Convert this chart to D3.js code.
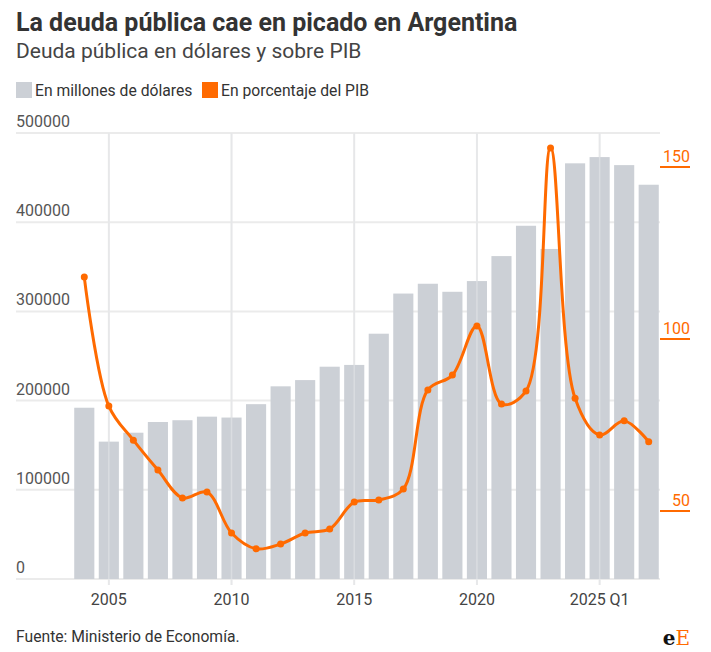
<!DOCTYPE html>
<html><head><meta charset="utf-8">
<script src="https://cdn.jsdelivr.net/npm/d3@7"></script>
<style>body{margin:0;background:#fff;font-family:Roboto,sans-serif}</style></head>
<body><svg id="c" width="711" height="652"></svg>
<script>
const categories=["2004","2005","2006","2007","2008","2009","2010","2011","2012","2013","2014","2015","2016","2017","2018","2019","2020","2021","2022","2023","2024","2025 Q1","2025 Q2","2025 Q3"];
const deudaUSD=[192000,154000,164000,176000,178000,182000,181000,196000,216000,223000,238000,240000,275000,320000,331000,322000,334000,362000,396000,370000,466000,473000,464000,442000];
const deudaPIB=[118,80.5,70.6,61.9,53.8,55.5,43.6,39,40.4,43.6,44.8,52.6,53.2,56.4,85.2,89.5,103.8,81.1,84.9,155.5,82.8,72.1,76.2,70.1];
const xTickLabels=["2005","2010","2015","2020","2025 Q1"];
const leftTicks=[0,100000,200000,300000,400000,500000];
const rightTicks=[50,100,150];
const svg=d3.select("#c");
const orange="#ff6a00";
svg.append("text").attr("x",16).attr("y",31).attr("font-size",25).attr("font-weight",700).attr("fill","#333").text("La deuda pública cae en picado en Argentina");
svg.append("text").attr("x",16).attr("y",58).attr("font-size",21).attr("fill","#444").text("Deuda pública en dólares y sobre PIB");
svg.append("rect").attr("x",16).attr("y",82).attr("width",16).attr("height",16).attr("fill","#ccd0d6");
svg.append("text").attr("x",35).attr("y",96).attr("font-size",15.7).attr("fill","#333").text("En millones de dólares");
svg.append("rect").attr("x",202).attr("y",82).attr("width",16).attr("height",16).attr("fill",orange);
svg.append("text").attr("x",221).attr("y",96).attr("font-size",15.7).attr("fill","#333").text("En porcentaje del PIB");
const x=d3.scaleBand().domain(categories).range([73,660]).paddingInner(0.18).paddingOuter(0.05);
const y=d3.scaleLinear().domain([0,500000]).range([579,133]);
const y2=d3.scaleLinear().domain([50,150]).range([511,167]);
const g=svg.append("g");
leftTicks.forEach(t=>{
 g.append("line").attr("x1",16).attr("x2",660).attr("y1",y(t)).attr("y2",y(t)).attr("stroke","#ebebeb").attr("stroke-width",2);
 g.append("text").attr("x",16).attr("y",y(t)-6).attr("font-size",16).attr("fill","#555").text(t);
});
xTickLabels.forEach(l=>{
 const xc=x(l)+x.bandwidth()/2;
 g.append("line").attr("x1",xc).attr("x2",xc).attr("y1",133).attr("y2",585).attr("stroke","#ebebeb").attr("stroke-width",2);
});
g.selectAll(".b").data(categories).enter().append("rect").attr("x",d=>x(d)).attr("width",x.bandwidth())
 .attr("y",(d,i)=>y(deudaUSD[i])).attr("height",(d,i)=>579-y(deudaUSD[i])).attr("fill","#ccd0d6");
xTickLabels.forEach(l=>{
 const xc=x(l)+x.bandwidth()/2;
 g.append("line").attr("x1",xc).attr("x2",xc).attr("y1",133).attr("y2",585).attr("stroke","#e4e6e9").attr("stroke-width",1.5).attr("opacity",0.6);
 g.append("text").attr("x",xc).attr("y",605).attr("text-anchor","middle").attr("font-size",16).attr("fill","#444").text(l);
});
rightTicks.forEach(t=>{
 g.append("line").attr("x1",660).attr("x2",690).attr("y1",y2(t)).attr("y2",y2(t)).attr("stroke",orange).attr("stroke-width",2);
 g.append("text").attr("x",690).attr("y",y2(t)-5).attr("text-anchor","end").attr("font-size",16).attr("fill",orange).text(t);
});
const pts=categories.map((c,i)=>[x(c)+x.bandwidth()/2,y2(deudaPIB[i])]);
g.append("path").attr("d",d3.line().curve(d3.curveCatmullRom.alpha(0.5))(pts)).attr("fill","none").attr("stroke",orange).attr("stroke-width",3);
g.selectAll(".p").data(pts).enter().append("circle").attr("cx",d=>d[0]).attr("cy",d=>d[1]).attr("r",3.5).attr("fill",orange);
svg.append("text").attr("x",16).attr("y",642).attr("font-size",15.7).attr("fill","#333").text("Fuente: Ministerio de Economía.");
const lg=svg.append("text").attr("x",690).attr("y",645).attr("text-anchor","end").attr("font-family","DejaVu Serif,serif").attr("font-weight",700).attr("font-size",20);
lg.append("tspan").attr("fill","#111").text("e");lg.append("tspan").attr("fill",orange).attr("font-weight",400).text("E");
</script></body></html>
